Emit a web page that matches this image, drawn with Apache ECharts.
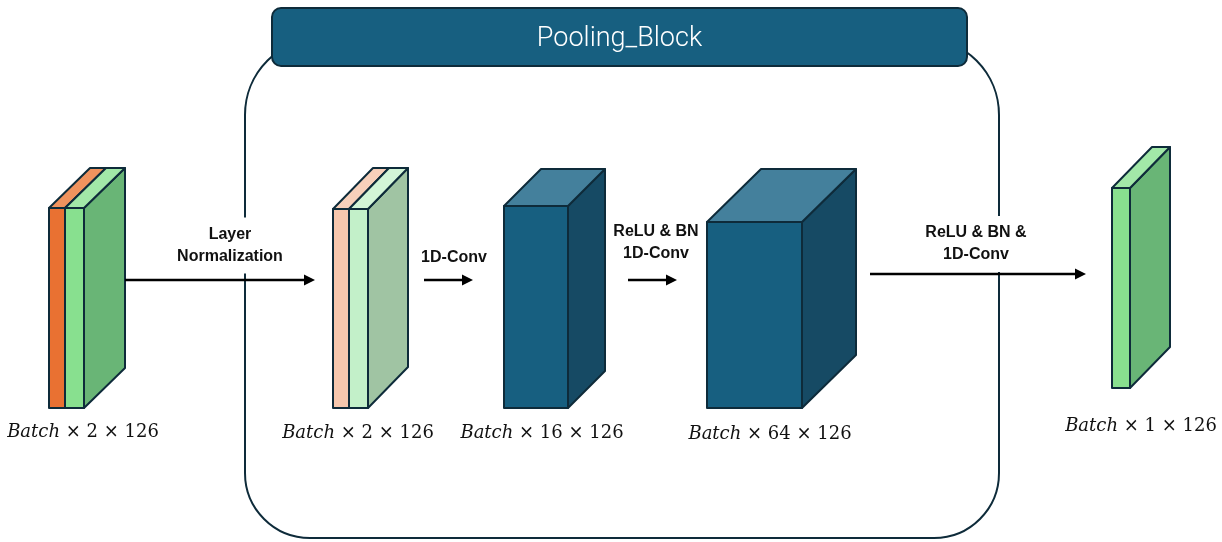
<!DOCTYPE html>
<html><head><meta charset="utf-8">
<script src="https://cdn.jsdelivr.net/npm/echarts@6/dist/echarts.min.js"></script>
<style>html,body{margin:0;padding:0;background:#fff}#c{width:1222px;height:542px}</style>
</head><body><div id="c"></div>
<script>
// ---- data ----
const blocks = ['Input', 'LayerNorm', 'Conv16', 'Conv64', 'Output'];
const blockChannels = [2, 2, 16, 64, 1];
const seqLength = 126;
const blockLeft = [49, 333, 504, 707, 1112];
const blockRight = [84, 368, 568, 802, 1130];
const blockTop = [208, 209, 206, 222, 188];
const blockBottom = [408, 408, 408, 408, 388];
const blockDepthX = [41, 40, 37, 54, 40];
const blockDepthY = [40, 41, 37, 53, 41];
const blockSplit = [65, 349, null, null, null];
const shapeLabelX = [83, 358, 542, 770, 1141];
const shapeLabelY = [432, 433, 433, 434, 426];

const arrowStartX = [125, 424, 628, 870];
const arrowEndX = [315, 473, 677, 1086];
const arrowY = [280, 280, 280, 274];
const arrowText = ['Layer\nNormalization', '1D-Conv', 'ReLU & BN\n1D-Conv', 'ReLU & BN &\n1D-Conv'];
const arrowLabelX = [230, 454, 656, 976];
const arrowLabelY = [245.5, 258, 243, 244];

const frameTitle = 'Pooling_Block';
const frameBox = [245, 38, 999, 538];      // left, top, right, bottom
const headerBox = [272, 8, 967, 66];

// ---- styles ----
const STROKE = '#0e2b3a';
const blockStyle = [
  { front: ['#e97132', '#88e08f'], top: ['#f0935e', '#a2e8a8'], side: '#69b576' },
  { front: ['#f5c7ae', '#c3f0c9'], top: ['#f7d0bb', '#d3f5d7'], side: '#a0c4a3' },
  { front: ['#175f80'], top: ['#44809c'], side: '#164a64' },
  { front: ['#175f80'], top: ['#44809c'], side: '#164a64' },
  { front: ['#88e08f'], top: ['#a2e8a8'], side: '#69b576' }
];

const chart = echarts.init(document.getElementById('c'), null, { renderer: 'canvas' });

function poly(pts, fill) {
  return { type: 'polygon', shape: { points: pts },
    style: { fill: fill, stroke: STROKE, lineWidth: 2, lineJoin: 'round' } };
}

function renderBlock(params, api) {
  const i = api.value(2);
  const L = blockLeft[i], R = blockRight[i], T = blockTop[i], B = blockBottom[i];
  const dx = blockDepthX[i], dy = blockDepthY[i];
  const c = (x, y) => api.coord([x, y]);
  const st = blockStyle[i];
  const ch = [];
  ch.push(poly([c(R, T), c(R + dx, T - dy), c(R + dx, B - dy), c(R, B)], st.side));
  const edges = blockSplit[i] != null ? [L, blockSplit[i], R] : [L, R];
  for (let k = 0; k < edges.length - 1; k++) {
    const a = edges[k], b = edges[k + 1];
    ch.push(poly([c(a, T), c(b, T), c(b + dx, T - dy), c(a + dx, T - dy)], st.top[k]));
    ch.push(poly([c(a, T), c(b, T), c(b, B), c(a, B)], st.front[k]));
  }
  const lp = c(shapeLabelX[i], shapeLabelY[i]);
  ch.push({ type: 'text', x: lp[0], y: lp[1],
    style: { text: '{i|Batch} × ' + blockChannels[i] + ' × ' + seqLength,
      align: 'center', verticalAlign: 'middle',
      font: '18px "DejaVu Serif"', fill: '#111',
      rich: { i: { font: 'italic 18px "DejaVu Serif"', fill: '#111' } } } });
  return { type: 'group', children: ch };
}

function renderArrow(params, api) {
  const i = api.value(2);
  const c = (x, y) => api.coord([x, y]);
  const p1 = c(arrowStartX[i], arrowY[i]);
  const p2 = c(arrowEndX[i], arrowY[i]);
  const lp = c(arrowLabelX[i], arrowLabelY[i]);
  return { type: 'group', children: [
    { type: 'text', x: lp[0], y: lp[1], z2: 5,
      style: { text: arrowText[i], align: 'center', verticalAlign: 'middle',
        font: 'bold 16px "Liberation Sans"', lineHeight: 22, fill: '#111',
        backgroundColor: '#fff', padding: [6, 3] } },
    { type: 'line', z2: 10, shape: { x1: p1[0], y1: p1[1], x2: p2[0] - 8, y2: p2[1] },
      style: { stroke: '#000', lineWidth: 2.5 } },
    { type: 'polygon', z2: 10, shape: { points: [[p2[0], p2[1]], [p2[0] - 11, p2[1] - 5.5], [p2[0] - 11, p2[1] + 5.5]] },
      style: { fill: '#000' } }
  ] };
}

function renderFrame(params, api) {
  const a = api.coord([frameBox[0], frameBox[1]]), b = api.coord([frameBox[2], frameBox[3]]);
  const h1 = api.coord([headerBox[0], headerBox[1]]), h2 = api.coord([headerBox[2], headerBox[3]]);
  return { type: 'group', children: [
    { type: 'rect', shape: { x: a[0], y: a[1], width: b[0] - a[0], height: b[1] - a[1], r: [77, 77, 65, 65] },
      style: { fill: 'none', stroke: STROKE, lineWidth: 2 } },
    { type: 'rect', shape: { x: h1[0], y: h1[1], width: h2[0] - h1[0], height: h2[1] - h1[1], r: 9 },
      style: { fill: '#175f80', stroke: STROKE, lineWidth: 2 } },
    { type: 'text', x: (h1[0] + h2[0]) / 2, y: (h1[1] + h2[1]) / 2 + 2,
      style: { text: frameTitle, align: 'center', verticalAlign: 'middle',
        font: '300 27px Roboto', fill: '#fff' } }
  ] };
}

chart.setOption({
  animation: false,
  grid: { left: 0, right: 0, top: 0, bottom: 0 },
  xAxis: { type: 'value', min: 0, max: 1222, show: false },
  yAxis: { type: 'value', min: 0, max: 542, inverse: true, show: false },
  series: [
    { type: 'custom', clip: false, z: 1, renderItem: renderFrame, data: [[frameBox[0], frameBox[1], 0]] },
    { type: 'custom', clip: false, z: 2, renderItem: renderBlock,
      data: blocks.map((n, i) => [blockLeft[i], blockTop[i], i]) },
    { type: 'custom', clip: false, z: 3, renderItem: renderArrow,
      data: arrowText.map((t, i) => [arrowStartX[i], arrowY[i], i]) }
  ]
});
</script></body></html>
